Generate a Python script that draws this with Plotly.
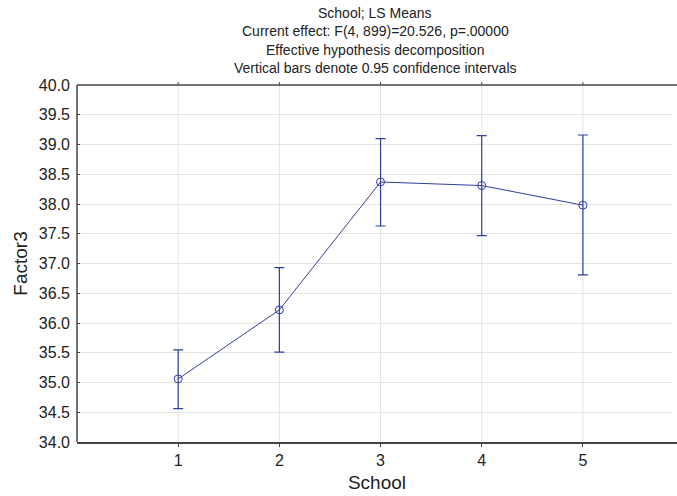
import plotly.graph_objects as go

# LS means of Factor3 by school with 95% confidence limits
schools = [1, 2, 3, 4, 5]
ls_means = [35.06, 36.22, 38.37, 38.31, 37.98]
ci_upper = [35.55, 36.93, 39.10, 39.15, 39.16]
ci_lower = [34.56, 35.51, 37.63, 37.47, 36.81]

y_ticks = [34.0, 34.5, 35.0, 35.5, 36.0, 36.5, 37.0, 37.5, 38.0, 38.5, 39.0, 39.5, 40.0]

title_lines = [
    "School; LS Means",
    "Current effect: F(4, 899)=20.526, p=.00000",
    "Effective hypothesis decomposition",
    "Vertical bars denote 0.95 confidence intervals",
]

blue = "#2f3f9f"
axis_color = "#444444"
grid_color = "#e4e4e4"
font_family = "Liberation Sans, Arial, sans-serif"

W, H = 677, 496
M_L, M_R, M_T, M_B = 77, 0, 85, 54
plot_h = H - M_T - M_B

err_plus = [u - m for u, m in zip(ci_upper, ls_means)]
err_minus = [m - l for m, l in zip(ls_means, ci_lower)]

fig = go.Figure()
fig.add_trace(
    go.Scatter(
        x=schools,
        y=ls_means,
        mode="lines+markers",
        line=dict(color=blue, width=1),
        marker=dict(symbol="circle-open", size=8, color=blue, line=dict(width=1)),
        error_y=dict(
            type="data",
            symmetric=False,
            array=err_plus,
            arrayminus=err_minus,
            color=blue,
            thickness=1.2,
            width=5,
        ),
        showlegend=False,
        cliponaxis=False,
    )
)

# four-line heading stacked above the plot area
line_centers_px = [13, 31, 50, 68]
for text, cy in zip(title_lines, line_centers_px):
    fig.add_annotation(
        text=text,
        xref="paper",
        yref="paper",
        x=0.497,
        y=(H - M_B - cy) / plot_h,
        xanchor="center",
        yanchor="middle",
        showarrow=False,
        font=dict(size=14, family=font_family, color="#222222"),
    )

# vertical grid lines at each school
for s in schools:
    fig.add_shape(
        type="line", xref="x", yref="paper", x0=s, x1=s, y0=0, y1=1,
        line=dict(color=grid_color, width=1), layer="below",
    )

# open right side of the frame
fig.add_shape(
    type="line", xref="paper", yref="paper", x0=1, x1=1, y0=0.003, y1=0.997,
    line=dict(color="white", width=10), layer="above",
)

# frame: left and top lines, with short tick marks above the top line
fig.add_shape(
    type="line", xref="paper", yref="paper", x0=0, x1=1, y0=1, y1=1,
    line=dict(color=axis_color, width=1.5),
)
fig.add_shape(
    type="line", xref="paper", yref="paper", x0=0, x1=0, y0=0, y1=1,
    line=dict(color=axis_color, width=1.5),
)
for s in schools:
    fig.add_shape(
        type="line", xref="x", yref="paper", x0=s, x1=s, y0=1, y1=1 + 3 / plot_h,
        line=dict(color=axis_color, width=1),
    )

fig.update_layout(
    width=W,
    height=H,
    margin=dict(l=M_L, r=M_R, t=M_T, b=M_B, autoexpand=False),
    paper_bgcolor="white",
    plot_bgcolor="white",
    font=dict(family=font_family, color="#222222"),
)

fig.update_xaxes(
    range=[0, 5.93],
    tickvals=schools,
    ticktext=[str(s) for s in schools],
    showgrid=False,
    zeroline=False,
    showline=True,
    linecolor=axis_color,
    linewidth=1.5,
    mirror=False,
    ticks="outside",
    ticklen=3,
    tickcolor=axis_color,
    tickfont=dict(size=16),
    title=dict(text="School", font=dict(size=19), standoff=8),
)

fig.update_yaxes(
    range=[34, 40],
    tickvals=y_ticks,
    ticktext=[f"{v:.1f}" for v in y_ticks],
    showgrid=True,
    gridcolor=grid_color,
    gridwidth=1,
    zeroline=False,
    showline=False,
    mirror=False,
    ticks="inside",
    ticklen=3,
    tickcolor=axis_color,
    tickfont=dict(size=16),
    ticklabelstandoff=6,
    title=dict(text="Factor3", font=dict(size=19), standoff=6),
)

fig.write_html("out.html")
